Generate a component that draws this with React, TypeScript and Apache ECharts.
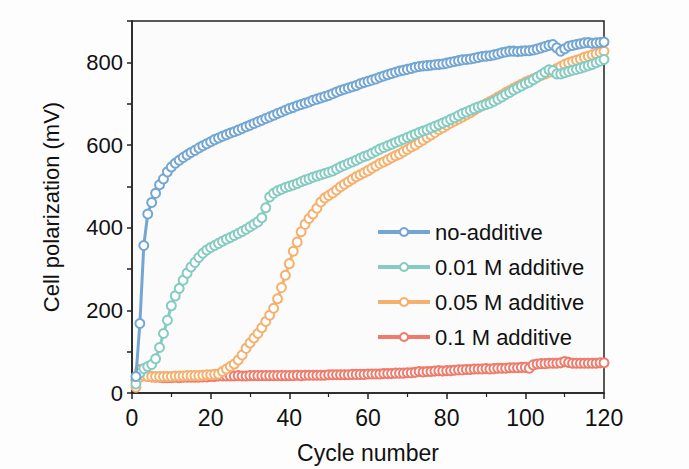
import React, { useEffect, useRef } from "react";
import * as echarts from "echarts";

const seriesNames = ["no-additive", "0.01 M additive", "0.05 M additive", "0.1 M additive"];
const colors = ["#73a6d3", "#85cbc1", "#f5b06e", "#ef7b6c"];

const noAdditive = [
  40, 168, 357, 433, 461, 483, 504, 518, 535, 547,
  556, 563, 570, 576, 582, 587, 593, 598, 603, 608,
  613, 617, 621, 625, 629, 632, 636, 640, 644, 648,
  652, 656, 660, 664, 668, 672, 676, 680, 684, 688,
  691, 695, 698, 701, 704, 708, 711, 714, 717, 720,
  724, 728, 732, 735, 738, 741, 744, 748, 751, 754,
  757, 760, 764, 767, 770, 773, 776, 779, 781, 783,
  785, 788, 790, 791, 792, 793, 794, 795, 796, 798,
  800, 802, 804, 806, 807, 808, 810, 812, 814, 815,
  816, 818, 820, 823, 825, 827, 827, 826, 827, 828,
  828, 830, 832, 835, 838, 841, 843, 835, 827, 833,
  839, 841, 843, 845, 847, 848, 846, 847, 848, 849,
];

const additive001 = [
  22, 48, 59, 64, 69, 83, 110, 144, 176, 211,
  235, 253, 273, 290, 305, 316, 328, 338, 346, 352,
  357, 362, 367, 372, 376, 381, 386, 391, 396, 402,
  408, 414, 424, 448, 474, 483, 489, 493, 497, 500,
  503, 507, 511, 515, 518, 522, 525, 528, 531, 534,
  537, 542, 547, 551, 555, 559, 563, 568, 572, 575,
  580, 585, 590, 594, 598, 602, 606, 610, 614, 618,
  622, 626, 630, 634, 637, 641, 645, 649, 653, 657,
  662, 666, 671, 676, 680, 684, 688, 692, 695, 698,
  701, 706, 711, 716, 722, 727, 733, 738, 743, 748,
  752, 758, 764, 770, 776, 782, 780, 772, 772, 775,
  778, 781, 783, 786, 789, 792, 795, 799, 803, 807,
];

const additive005 = [
  14, 38, 42, 40, 40, 40, 40, 40, 40, 40,
  41, 41, 41, 42, 42, 42, 42, 43, 44, 44,
  45, 46, 52, 58, 64, 70, 80, 92, 108, 121,
  133, 144, 158, 173, 188, 205, 228, 255, 285, 313,
  343, 365, 390, 408, 422, 433, 447, 462, 472, 478,
  484, 491, 499, 505, 511, 517, 523, 528, 533, 538,
  544, 549, 555, 559, 564, 569, 574, 578, 584, 589,
  595, 600, 606, 612, 618, 624, 630, 637, 642, 648,
  653, 658, 663, 668, 673, 678, 684, 690, 695, 700,
  705, 710, 716, 721, 727, 732, 737, 742, 747, 752,
  756, 760, 764, 768, 772, 776, 780, 785, 790, 795,
  799, 802, 805, 808, 812, 815, 818, 821, 824, 827,
];

const additive01 = [
  31, 56, 44, 40, 39, 38, 38, 37, 37, 37,
  38, 37, 38, 38, 38, 38, 38, 39, 39, 40,
  40, 41, 41, 41, 41, 41, 42, 41, 41, 42,
  42, 42, 42, 42, 42, 42, 42, 42, 42, 42,
  42, 43, 42, 43, 43, 43, 43, 43, 43, 44,
  44, 44, 44, 44, 44, 45, 45, 45, 45, 46,
  46, 46, 46, 47, 47, 47, 48, 48, 48, 49,
  49, 50, 52, 51, 52, 52, 53, 54, 53, 54,
  54, 55, 56, 56, 57, 57, 58, 58, 58, 59,
  58, 59, 60, 60, 60, 61, 61, 61, 62, 62,
  60, 68, 70, 71, 71, 72, 72, 72, 73, 76,
  74, 72, 72, 72, 72, 72, 72, 72, 73, 73,
];

const allData = [noAdditive, additive001, additive005, additive01];
const yTicks = [0, 200, 400, 600, 800];

const FONT = "Liberation Sans, Arial, sans-serif";

export default function App() {
  const ref = useRef<HTMLDivElement>(null);
  useEffect(() => {
    if (!ref.current) return;
    const chart = echarts.init(ref.current, undefined, { renderer: "svg" });
    const series = allData.map((d, i) => ({
      name: seriesNames[i],
      type: "line",
      data: d.map((v, j) => [j + 1, v]),
      symbol: "emptyCircle",
      symbolSize: 9,
      showSymbol: true,
      z: 10 - i,
      lineStyle: { color: colors[i], width: 3 },
      itemStyle: { color: colors[i], borderColor: colors[i], borderWidth: 1.5 },
      emphasis: { disabled: true },
    }));
    chart.setOption({
      animation: false,
      backgroundColor: "#fdfdfd",
      textStyle: { fontFamily: FONT },
      grid: {
        left: 132,
        right: 85,
        top: 21,
        bottom: 68,
        show: true,
        borderColor: "#222",
        borderWidth: 1.5,
        backgroundColor: "#fbfbfb",
      },
      legend: {
        orient: "vertical",
        left: 371,
        top: 216,
        itemWidth: 52,
        itemHeight: 10,
        itemGap: 13,
        lineStyle: { width: 4 },
        textStyle: { fontSize: 22, color: "#111", fontFamily: FONT },
        data: seriesNames,
      },
      xAxis: {
        type: "value",
        min: 0,
        max: 120,
        interval: 20,
        name: "Cycle number",
        nameLocation: "middle",
        nameGap: 48,
        nameTextStyle: { fontSize: 23, color: "#111", fontFamily: FONT },
        axisLine: { lineStyle: { color: "#222", width: 1.5 } },
        axisTick: { show: true, inside: false, length: 6, lineStyle: { color: "#222", width: 1.5 } },
        minorTick: { show: true, splitNumber: 2, length: 4, lineStyle: { color: "#222", width: 1.2 } },
        axisLabel: { fontSize: 23, color: "#111", margin: 13, fontFamily: FONT },
        splitLine: { show: false },
      },
      yAxis: {
        type: "value",
        min: 0,
        max: 900,
        interval: 100,
        name: "Cell polarization (mV)",
        nameLocation: "middle",
        nameGap: 70,
        nameTextStyle: { fontSize: 22, color: "#111", fontFamily: FONT },
        axisLine: { lineStyle: { color: "#222", width: 1.5 } },
        axisTick: { show: true, inside: false, length: 5, lineStyle: { color: "#222", width: 1.5 } },
        axisLabel: {
          fontSize: 22,
          color: "#111",
          margin: 9,
          fontFamily: FONT,
          formatter: (v: number) => (yTicks.indexOf(v) >= 0 ? String(v) : ""),
        },
        splitLine: { show: false },
      },
      series,
    });
    return () => chart.dispose();
  }, []);
  return (
    <div style={{ width: 689, height: 469, position: "absolute", left: 0, top: 0, overflow: "hidden" }}>
      <div ref={ref} style={{ width: 689, height: 469 }} />
    </div>
  );
}
